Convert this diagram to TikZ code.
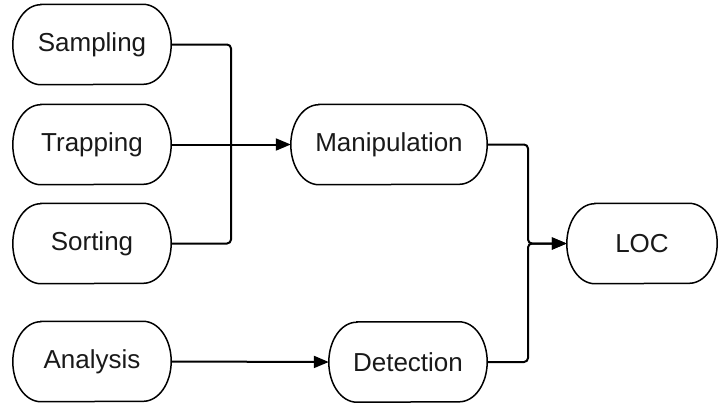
\documentclass[tikz,border=0pt]{standalone}
\usepackage{fontspec}
\setmainfont{Liberation Sans}
\usetikzlibrary{arrows.meta}
\begin{document}
\begin{tikzpicture}[x=1pt,y=-1pt,
  stage/.style={rectangle, minimum height=80pt, inner sep=0pt,
    font=\fontsize{26}{30}\selectfont, text=black!90},
  outline/.style={draw=black, line width=1.5pt},
  link/.style={draw=black, line width=2pt, rounded corners=4pt},
  feed/.style={link, -{Triangle[length=15pt,width=12pt]}}]
\useasboundingbox (0,0) rectangle (719,405);

% source stages
\node[stage, minimum width=158pt] (sam) at (92,44.5) {Sampling};
\node[stage, minimum width=158pt] (trap) at (92,144.5) {Trapping};
\node[stage, minimum width=158pt] (sort) at (92,243.5) {Sorting};
\node[stage, minimum width=158pt] (ana) at (92,361.5) {Analysis};

% intermediate stages
\node[stage, minimum width=196pt] (man) at (389,144.5) {Manipulation};
\node[stage, minimum width=158pt] (det) at (408,362) {Detection};

% target
\node[stage, minimum width=150pt] (loc) at (642,243.5) {LOC};

% pill outlines with elliptical ends
\foreach \n in {sam,trap,sort,ana,man,det,loc}{
  \draw[outline] ([xshift=28pt]\n.north west) -- ([xshift=-28pt]\n.north east)
    arc[start angle=90, end angle=-90, x radius=28pt, y radius=40pt]
    -- ([xshift=28pt]\n.south west)
    arc[start angle=270, end angle=90, x radius=28pt, y radius=40pt]
    -- cycle;
}

% merge points
\coordinate (jl) at (231,144.5);
\coordinate (jr) at (528,243.5);

% left merge into Manipulation
\draw[link] (sam.east) -| (jl);
\draw[link] (sort.east) -| (jl);
\draw[feed] (trap.east) -- (man.west);

% Analysis to Detection
\draw[feed] (ana.east) -- (det.west);

% right merge into LOC
\draw[feed] (man.east) -| (jr) -- (loc.west);
\draw[feed] (det.east) -| (jr) -- (loc.west);
\end{tikzpicture}
\end{document}
